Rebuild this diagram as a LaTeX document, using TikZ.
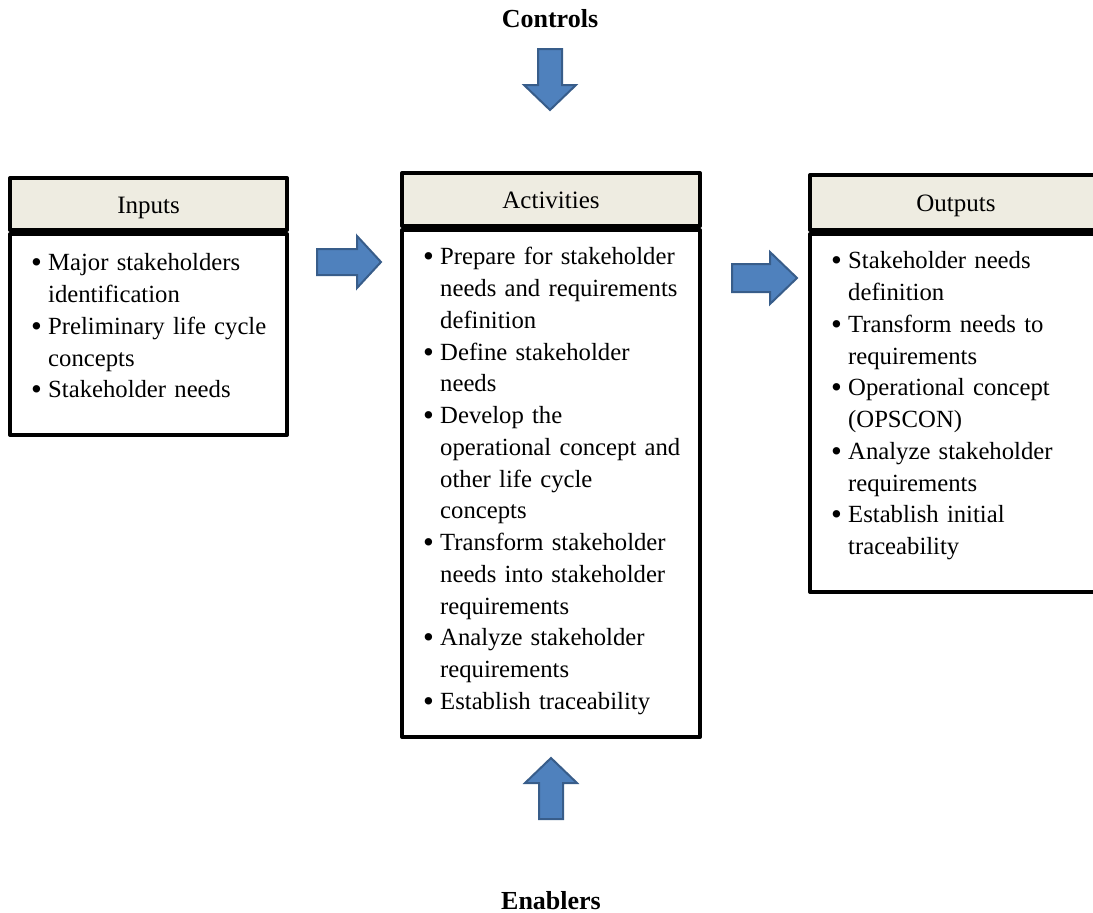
\documentclass[tikz,border=0pt]{standalone}
\usepackage{fontspec}
\setmainfont{Liberation Serif}
\definecolor{headfill}{HTML}{EEECE1}
\definecolor{arrowfill}{HTML}{4F81BD}
\definecolor{arrowline}{HTML}{385D8A}
\newcommand{\bitem}[1]{\par\noindent\hangindent=17pt\hangafter=1\makebox[17pt][l]{\raisebox{-0.08em}{\scalebox{1.25}{\textbullet}}}#1\par}
\tikzset{
  x=1pt, y=-1pt,
  boxframe/.style={draw=black, line width=4pt, line join=round},
  headbox/.style={boxframe, fill=headfill},
  bodybox/.style={boxframe, fill=white},
  headtext/.style={font=\fontsize{25}{30}\selectfont, inner sep=0pt, anchor=base},
  listtext/.style={font=\fontsize{24.7}{31.75}\selectfont, inner sep=0pt, anchor=north west, text width=300pt},
  flowarrow/.style={fill=arrowfill, draw=arrowline, line width=2pt, line join=miter},
  sidelabel/.style={font=\fontsize{26}{30}\selectfont\bfseries, inner sep=0pt, anchor=base}
}
\begin{document}
\begin{tikzpicture}
\useasboundingbox (0,0) rectangle (1093,913);

% Inputs box
\draw[bodybox] (10,234) rectangle (287,435);
\draw[headbox] (10,178) rectangle (287,230);
\node[headtext] (inputs) at (148.5,213) {Inputs};
\node[listtext] (inlist) at (31,239) {%
  \bitem{Major stakeholders\newline identification}%
  \bitem{Preliminary life cycle\newline concepts}%
  \bitem{Stakeholder needs}};

% Activities box
\draw[bodybox] (402,230) rectangle (700,737);
\draw[headbox] (402,173) rectangle (700,226);
\node[headtext] (activities) at (551,208) {Activities};
\node[listtext] (actlist) at (423,233) {%
  \bitem{Prepare for stakeholder\newline needs and requirements\newline definition}%
  \bitem{Define stakeholder\newline needs}%
  \bitem{Develop the\newline operational concept and\newline other life cycle\newline concepts}%
  \bitem{Transform stakeholder\newline needs into stakeholder\newline requirements}%
  \bitem{Analyze stakeholder\newline requirements}%
  \bitem{Establish traceability}};

% Outputs box (runs past the right edge)
\draw[bodybox] (810,234) rectangle (1110,592);
\draw[headbox] (810,175) rectangle (1110,230);
\node[headtext] (outputs) at (956,211) {Outputs};
\node[listtext] (outlist) at (831,237) {%
  \bitem{Stakeholder needs\newline definition}%
  \bitem{Transform needs to\newline requirements}%
  \bitem{Operational concept\newline (OPSCON)}%
  \bitem{Analyze stakeholder\newline requirements}%
  \bitem{Establish initial\newline traceability}};

% Controls and enablers
\node[sidelabel] (controls) at (550,27) {Controls};
\node[sidelabel] (enablers) at (551,909) {Enablers};

% Block arrows
\draw[flowarrow] (317,249) -- (357,249) -- (357,236) -- (381,262) -- (357,288) -- (357,275) -- (317,275) -- cycle;
\draw[flowarrow] (732,264) -- (770,264) -- (770,252) -- (797,278) -- (770,304) -- (770,292) -- (732,292) -- cycle;
\draw[flowarrow] (538,49) -- (562,49) -- (562,85) -- (576,85) -- (550,110) -- (524,85) -- (538,85) -- cycle;
\draw[flowarrow] (539,819) -- (563,819) -- (563,783) -- (577,783) -- (551,758) -- (525,783) -- (539,783) -- cycle;
\end{tikzpicture}
\end{document}
